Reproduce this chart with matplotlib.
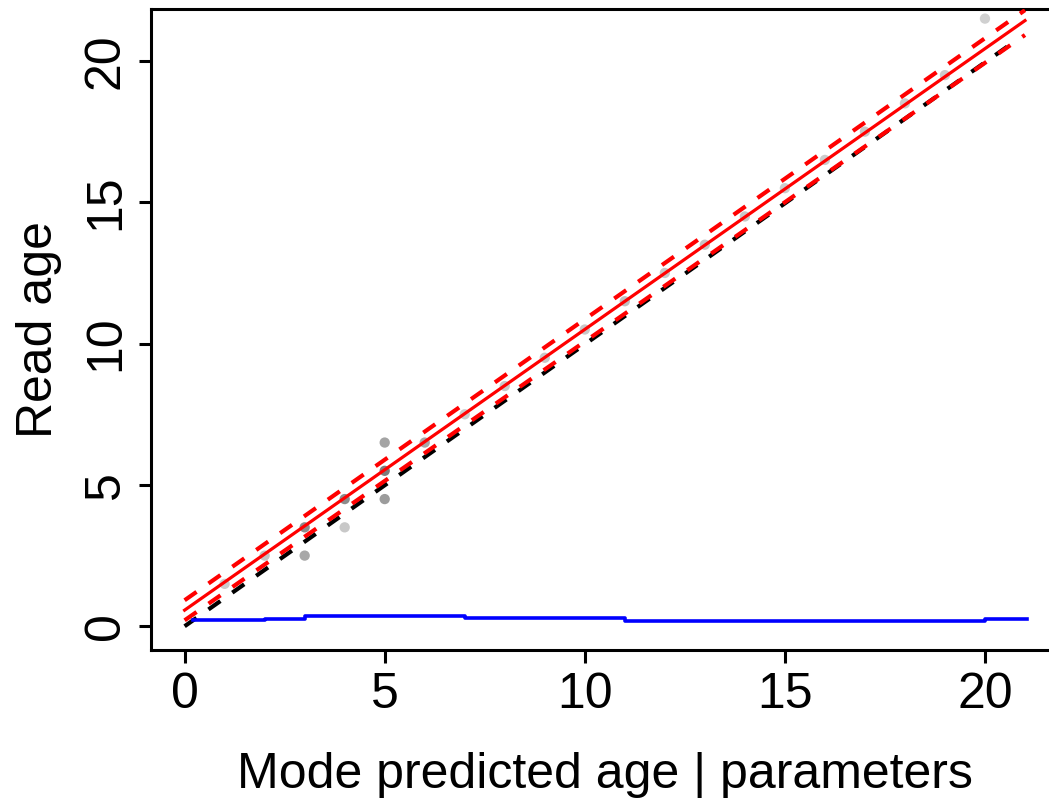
import numpy as np
import matplotlib
matplotlib.use("Agg")
import matplotlib.pyplot as plt

plt.rcParams['font.family'] = ['Liberation Sans', 'DejaVu Sans']

# read ages vs mode predicted age (gray points)
pt_x = [1, 2, 3, 3, 4, 4, 5, 5, 5, 6, 7, 8, 9, 10, 11, 12, 13, 14, 15, 16, 17, 18, 19, 20]
pt_y = [1.5, 2.5, 2.5, 3.5, 3.5, 4.5, 4.5, 5.5, 6.5, 6.5, 7.5, 8.5, 9.5, 10.5, 11.5,
        12.5, 13.5, 14.5, 15.5, 16.5, 17.5, 18.5, 19.5, 21.5]
pt_col = ['#cccccc', '#c4c4c4', '#a8a8a8', '#8c8c8c', '#c8c8c8', '#8c8c8c',
          '#9c9c9c', '#7c7c7c', '#a4a4a4', '#a8a8a8', '#cccccc', '#c8c8c8', '#c8c8c8',
          '#c8c8c8', '#c0c0c0', '#c8c8c8', '#c4c4c4', '#c8c8c8', '#cccccc', '#cccccc',
          '#c8c8c8', '#cccccc', '#cccccc', '#d0d0d0']

# fitted line and interval (ends at x=0 and x=21)
fit_x = [0, 21]
fit_mid = [0.57, 21.43]
fit_hi = [0.92, 21.80]
fit_lo = [0.21, 20.92]
one_x = [0, 20.8]
one_y = [0, 20.75]

# blue step line
sd_x = [0.2, 2, 3, 7, 11, 20, 21.05]
sd_y = [0.21, 0.27, 0.35, 0.28, 0.20, 0.27, 0.27]

fig = plt.figure(figsize=(10.49, 8.02), dpi=100)
W, H = 1049, 802
ax = fig.add_axes([151 / W, 1 - 650 / H, (1058.6 - 151) / W, (650 - 9) / H])

ax.scatter(pt_x, pt_y, s=55, c=pt_col, marker='o', edgecolors='none', zorder=1)
ax.plot(one_x, one_y, color='black', lw=3.0, dashes=(3.5, 3.5), zorder=2)
ax.plot(fit_x, fit_lo, color='red', lw=3.0, dashes=(3.5, 3.5), zorder=3)
ax.plot(fit_x, fit_hi, color='red', lw=3.0, dashes=(3.5, 3.5), zorder=3)
ax.plot(fit_x, fit_mid, color='red', lw=2.3, zorder=3)
ax.step(sd_x, sd_y, where='post', color='blue', lw=2.6, zorder=3)

ax.set_xlim(-0.84, 21.84)
ax.set_ylim(-0.84, 21.84)
ax.set_xticks([0, 5, 10, 15, 20])
ax.set_yticks([0, 5, 10, 15, 20])
for s in ax.spines.values():
    s.set_linewidth(2.2)
ax.tick_params(length=9, width=2.2, labelsize=36, pad=7)
for lab in ax.get_yticklabels():
    lab.set_rotation(90)
    lab.set_va('center')
ax.set_xlabel('Mode predicted age | parameters', fontsize=36, labelpad=24)
ax.set_ylabel('Read age', fontsize=36, labelpad=15)

fig.savefig('out.png', dpi=100)
